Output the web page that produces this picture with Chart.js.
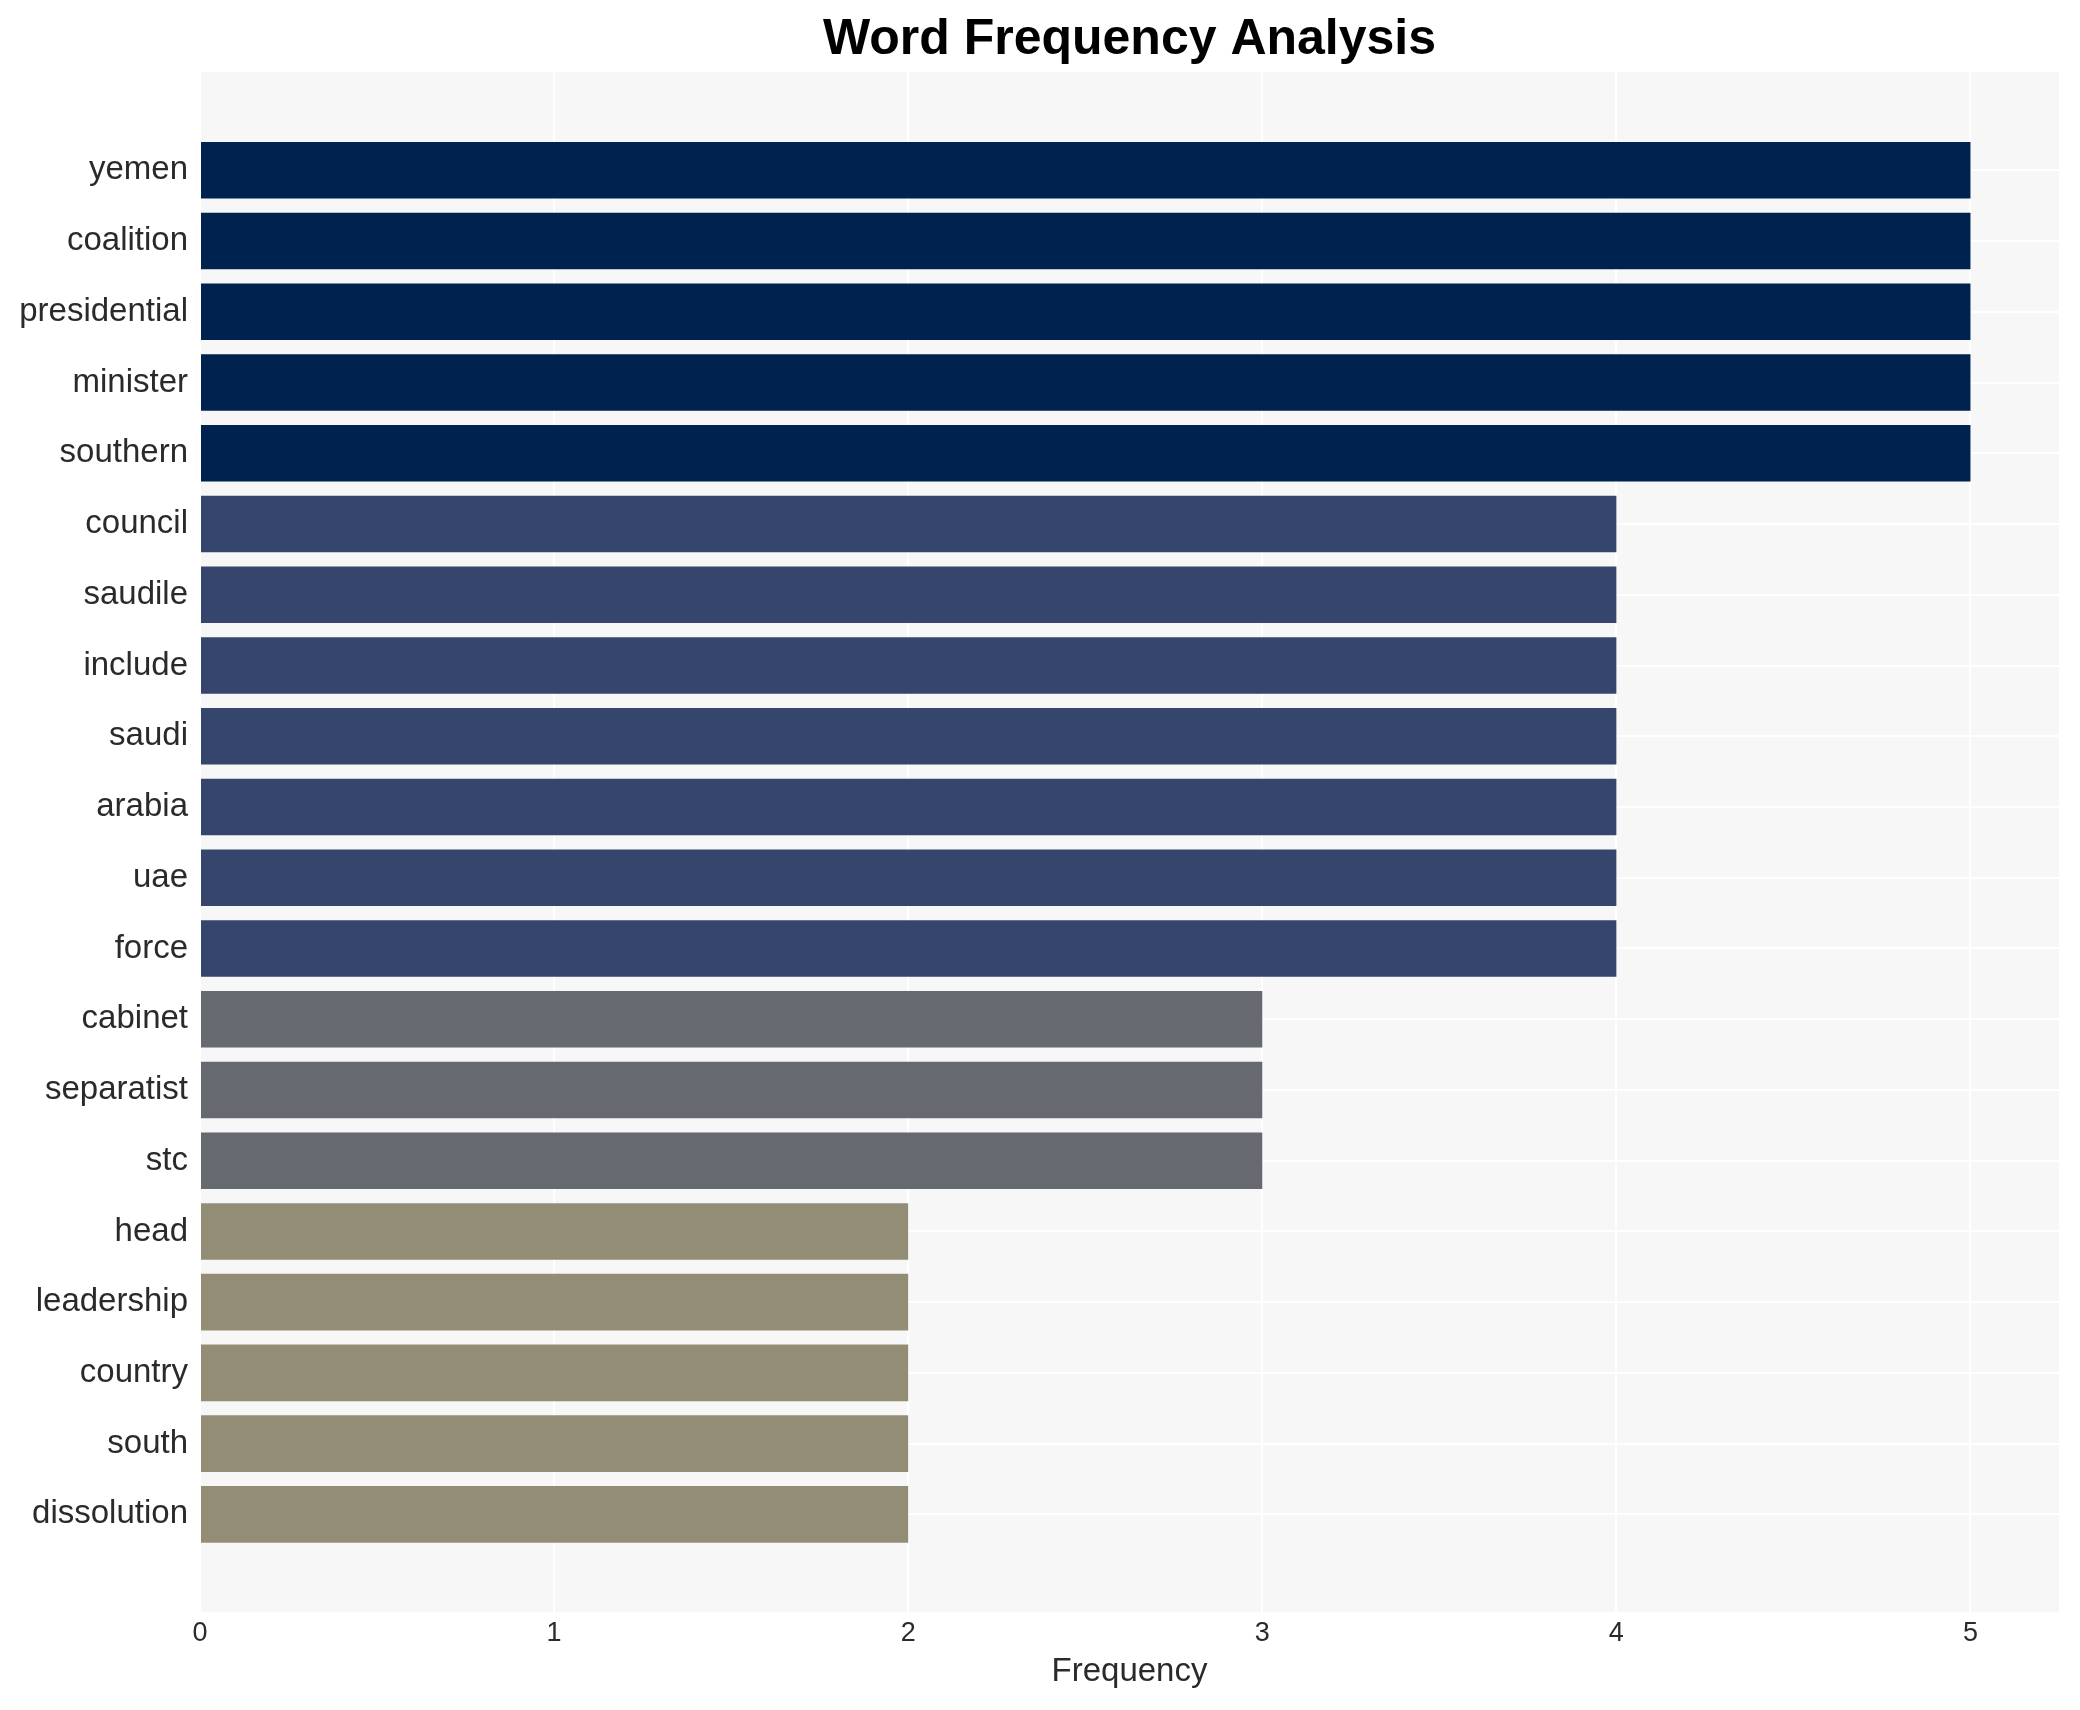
<!DOCTYPE html>
<html>
<head>
<meta charset="utf-8">
<script src="https://cdn.jsdelivr.net/npm/chart.js@4.4.0/dist/chart.umd.min.js"></script>
<style>
  html, body { margin: 0; padding: 0; background: #fff; }
  #wrap { width: 2080px; height: 1710px; }
</style>
</head>
<body>
<div id="wrap"><canvas id="freqChart" width="2080" height="1710"></canvas></div>
<script>
// data
const words = ['yemen', 'coalition', 'presidential', 'minister', 'southern',
  'council', 'saudile', 'include', 'saudi', 'arabia', 'uae', 'force',
  'cabinet', 'separatist', 'stc',
  'head', 'leadership', 'country', 'south', 'dissolution'];
const counts = [5, 5, 5, 5, 5, 4, 4, 4, 4, 4, 4, 4, 3, 3, 3, 2, 2, 2, 2, 2];
const xTicks = [0, 1, 2, 3, 4, 5];

// colour per frequency level
const levelColors = { 5: '#00224e', 4: '#35456c', 3: '#666970', 2: '#938d76' };

const FONT = '"Liberation Sans", Arial, sans-serif';
const TEXT = '#2a2a2a';

const plotBg = {
  id: 'plotBg',
  beforeDraw(chart) {
    const { ctx, chartArea: a } = chart;
    ctx.save();
    ctx.fillStyle = '#f7f7f7';
    ctx.fillRect(a.left, a.top, a.right - a.left, a.bottom - a.top);
    ctx.restore();
  }
};

const ctx = document.getElementById('freqChart').getContext('2d');
new Chart(ctx, {
  type: 'bar',
  data: {
    datasets: [{
      label: 'Frequency',
      data: words.map((w, i) => ({ x: counts[i], y: i })),
      backgroundColor: counts.map(c => levelColors[c]),
      borderWidth: 0,
      barPercentage: 0.8,
      categoryPercentage: 1.0
    }]
  },
  options: {
    indexAxis: 'y',
    responsive: false,
    animation: false,
    layout: { padding: { left: 0, right: 21, top: 0, bottom: 0 } },
    plugins: {
      legend: { display: false },
      tooltip: { enabled: false },
      title: {
        display: true,
        text: 'Word Frequency Analysis',
        fullSize: false,
        color: '#000',
        font: { family: FONT, size: 50, weight: 'bold', lineHeight: 1.2 },
        padding: { top: 10, bottom: 2 }
      }
    },
    scales: {
      x: {
        type: 'linear',
        min: 0,
        max: 5.25,
        offset: false,
        afterBuildTicks: s => { s.ticks = xTicks.map(v => ({ value: v })); },
        afterFit: s => { s.height = 98; },
        ticks: { color: TEXT, font: { family: FONT, size: 27 }, padding: 5 },
        grid: { color: '#ffffff', lineWidth: 2, drawTicks: false, offset: false },
        border: { display: false },
        title: {
          display: true,
          text: 'Frequency',
          color: TEXT,
          font: { family: FONT, size: 33, lineHeight: 1.2 },
          padding: { top: 0, bottom: 18 }
        }
      },
      y: {
        type: 'linear',
        reverse: true,
        offset: false,
        min: -1.39,
        max: words.length - 1 + 1.38,
        afterBuildTicks: s => { s.ticks = words.map((w, i) => ({ value: i })); },
        afterFit: s => { s.width = 200; },
        ticks: {
          color: TEXT,
          font: { family: FONT, size: 33 },
          padding: 12,
          autoSkip: false,
          callback: v => words[v]
        },
        grid: { color: '#ffffff', lineWidth: 2, drawTicks: false, offset: false },
        border: { display: false }
      }
    }
  },
  plugins: [plotBg]
});
</script>
</body>
</html>
